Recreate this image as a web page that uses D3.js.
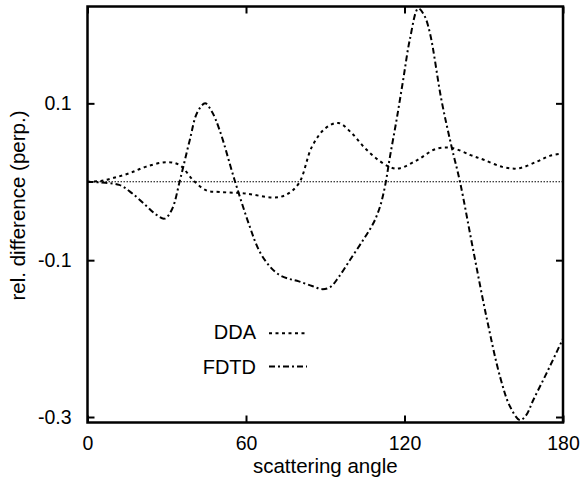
<!DOCTYPE html>
<html><head><meta charset="utf-8">
<script src="https://cdn.jsdelivr.net/npm/d3@7"></script>
<style>body{margin:0;background:#fff}svg{display:block}text{font-family:"Liberation Sans",Arial,sans-serif;fill:#000}</style>
</head><body><svg id="c" width="584" height="483"></svg>
<script>
const ddaAngle = [0,5,10,16,22,30,35,40,45,50,60,70,75,80,85,90,95,100,105,110,115,118,125,132,138,145,150,157,163,170,175,180];
const ddaValue = [0,0.001,0.005,0.011,0.019,0.025,0.021,0.002,-0.011,-0.013,-0.015,-0.020,-0.017,-0.002,0.045,0.068,0.075,0.062,0.043,0.028,0.018,0.017,0.028,0.042,0.043,0.034,0.028,0.019,0.017,0.0255,0.033,0.036];
const fdtdAngle = [0,5,12,17,22,26,29.2,32,35,38.7,41.5,44.5,47,50,55.7,61.4,65,69,72.7,76.5,80,85,89,92,95,99.3,104.4,108.2,110.7,112.6,114.5,117,119.5,122,125.2,127.5,129.6,134,137.8,141,146,151,156.2,160,163.7,166,168.8,173.8,180];
const fdtdValue = [0,-0.001,-0.004,-0.015,-0.030,-0.042,-0.047,-0.035,0.002,0.053,0.088,0.100,0.090,0.066,0.002,-0.057,-0.088,-0.108,-0.119,-0.124,-0.127,-0.133,-0.137,-0.134,-0.122,-0.100,-0.074,-0.053,-0.032,-0.006,0.032,0.079,0.130,0.181,0.221,0.212,0.190,0.104,0.045,0,-0.087,-0.172,-0.249,-0.287,-0.304,-0.298,-0.278,-0.244,-0.200];
const xTicks = [0,60,120,180];
const yTicks = [0.1,-0.1,-0.3];
const seriesNames = ["DDA","FDTD"];

(function(){
const svg = d3.select("#c");
const L=87.5, R=563, T=6.5, B=422.5;
const x = d3.scaleLinear().domain([0,180]).range([L,R]);
const y = d3.scaleLinear().domain([-0.307,0.2235]).range([B,T]);

svg.append("clipPath").attr("id","cp").append("rect")
  .attr("x",L).attr("y",T).attr("width",R-L).attr("height",B-T);

svg.append("line").attr("x1",x(0)).attr("x2",x(180)).attr("y1",y(0)).attr("y2",y(0))
  .attr("stroke","#000").attr("stroke-width",1).attr("stroke-dasharray","1.5,1.5");

const line = d3.line().x(d=>x(d[0])).y(d=>y(d[1])).curve(d3.curveCatmullRom.alpha(0.5));
const g = svg.append("g").attr("clip-path","url(#cp)");
g.append("path").datum(ddaAngle.map((a,i)=>[a,ddaValue[i]]))
  .attr("d",line).attr("fill","none").attr("stroke","#000").attr("stroke-width",2).attr("stroke-dasharray","3,3.5");
g.append("path").datum(fdtdAngle.map((a,i)=>[a,fdtdValue[i]]))
  .attr("d",line).attr("fill","none").attr("stroke","#000").attr("stroke-width",2).attr("stroke-dasharray","6,3,2,3");

const ax = svg.append("g");
const aBottom = d3.axisBottom(x).tickValues(xTicks).tickSize(-7).tickPadding(14).tickFormat(d3.format("d"));
const aTop = d3.axisTop(x).tickValues(xTicks).tickSize(-7).tickFormat("");
const aLeft = d3.axisLeft(y).tickValues(yTicks).tickSize(-7).tickPadding(16).tickFormat(d=>d3.format(".1f")(d).replace("−","-"));
const aRight = d3.axisRight(y).tickValues(yTicks).tickSize(-7).tickFormat("");
[[aBottom,`translate(0,${B})`],[aTop,`translate(0,${T})`],[aLeft,`translate(${L},0)`],[aRight,`translate(${R},0)`]].forEach(([a,t])=>{
  const gg = ax.append("g").attr("transform",t).call(a);
  gg.select(".domain").remove();
  gg.selectAll("line").attr("stroke","#000").attr("stroke-width",2);
  gg.selectAll("text").style("font-size","19.5px").attr("fill","#000");
});
svg.append("rect").attr("x",L).attr("y",T).attr("width",R-L).attr("height",B-T)
  .attr("fill","none").attr("stroke","#000").attr("stroke-width",2.5);

svg.append("text").attr("x",(L+R)/2).attr("y",473).attr("text-anchor","middle").style("font-size","20.5px").text("scattering angle");
svg.append("text").attr("transform",`translate(25,205.5) rotate(-90)`).attr("text-anchor","middle").style("font-size","20.5px").text("rel. difference (perp.)");

const dashes = ["3,3.5","6,3,2,3"];
const legBase = [339.3,374];
const legLine = [333.3,366.5];
seriesNames.forEach((n,i)=>{
  svg.append("text").attr("x",256).attr("y",legBase[i]).attr("text-anchor","end").style("font-size","20px").text(n);
  svg.append("line").attr("x1",269).attr("x2",307).attr("y1",legLine[i]).attr("y2",legLine[i])
    .attr("stroke","#000").attr("stroke-width",2).attr("stroke-dasharray",dashes[i]);
});
})();
</script></body></html>
